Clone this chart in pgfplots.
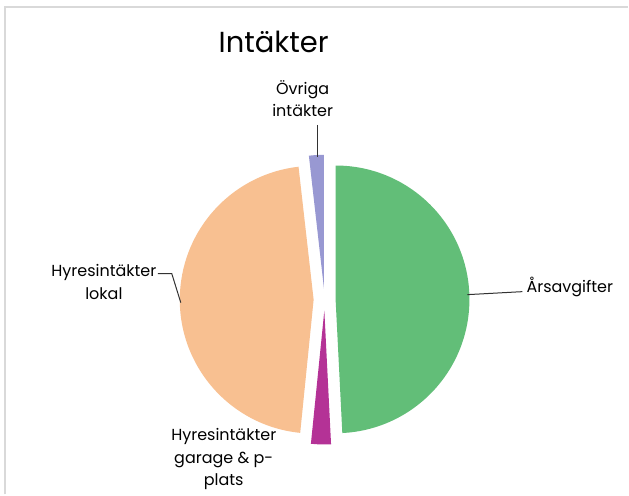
\documentclass[border=0pt]{standalone}
\usepackage{fontspec}
\setmainfont{Poppins}
\usepackage{pgfplots}
\pgfplotsset{compat=1.18}
\usetikzlibrary{calc}
\definecolor{cGreen}{RGB}{98,190,120}
\definecolor{cPeach}{RGB}{248,192,145}
\definecolor{cMag}{RGB}{180,50,150}
\definecolor{cLav}{RGB}{152,152,210}
\definecolor{cLine}{RGB}{50,50,50}
% #1 = cumulative percent before slice, #2 = slice percent, #3 = colour
\newcommand{\slice}[3]{%
  \fill[#3] ($(axis cs:325,195)+({90-3.6*(#1+#2/2)}:11pt)$) -- +({90-3.6*#1}:134pt)
     arc[start angle={90-3.6*#1}, end angle={90-3.6*(#1+#2)}, radius=134pt] -- cycle;}
\begin{document}
\begin{tikzpicture}
\begin{axis}[scale only axis, width=629pt, height=495pt,
  xmin=0, xmax=629, ymin=0, ymax=495, hide axis, clip=false]
\fill[white] (axis cs:0,0) rectangle (axis cs:629,495);
\draw[black!15, line width=1.5pt] (axis cs:5,0) -- (axis cs:5,488) -- (axis cs:629,488);
% data: Årsavgifter 49.2, Hyresintäkter garage & p-plats 2.4, Hyresintäkter lokal 46.6, Övriga intäkter 1.8
\slice{0}{49.2}{cGreen}
\slice{49.2}{2.4}{cMag}
\slice{51.6}{46.6}{cPeach}
\slice{98.2}{1.8}{cLav}
\node[font=\fontsize{29}{33}\selectfont] at (axis cs:274,453) {Intäkter};
\draw[cLine, line width=1pt] (axis cs:468,200) -- (axis cs:523,203);
\node[anchor=west, inner sep=1pt, font=\fontsize{16}{22.5}\selectfont] at (axis cs:526,208) {Årsavgifter};
\draw[cLine, line width=1pt] (axis cs:181,192) -- (axis cs:172,221) -- (axis cs:158,221);
\node[align=center, font=\fontsize{16}{22.5}\selectfont] at (axis cs:104,212.5) {Hyresintäkter\\lokal};
\draw[cLine, line width=1pt] (axis cs:318,370) -- (axis cs:318,338);
\node[align=center, font=\fontsize{16}{22.5}\selectfont] at (axis cs:303,396.5) {Övriga\\intäkter};
\node[align=center, font=\fontsize{16}{22.5}\selectfont] at (axis cs:224,35) {Hyresintäkter\\garage \& p-\\plats};
\end{axis}
\end{tikzpicture}
\end{document}
